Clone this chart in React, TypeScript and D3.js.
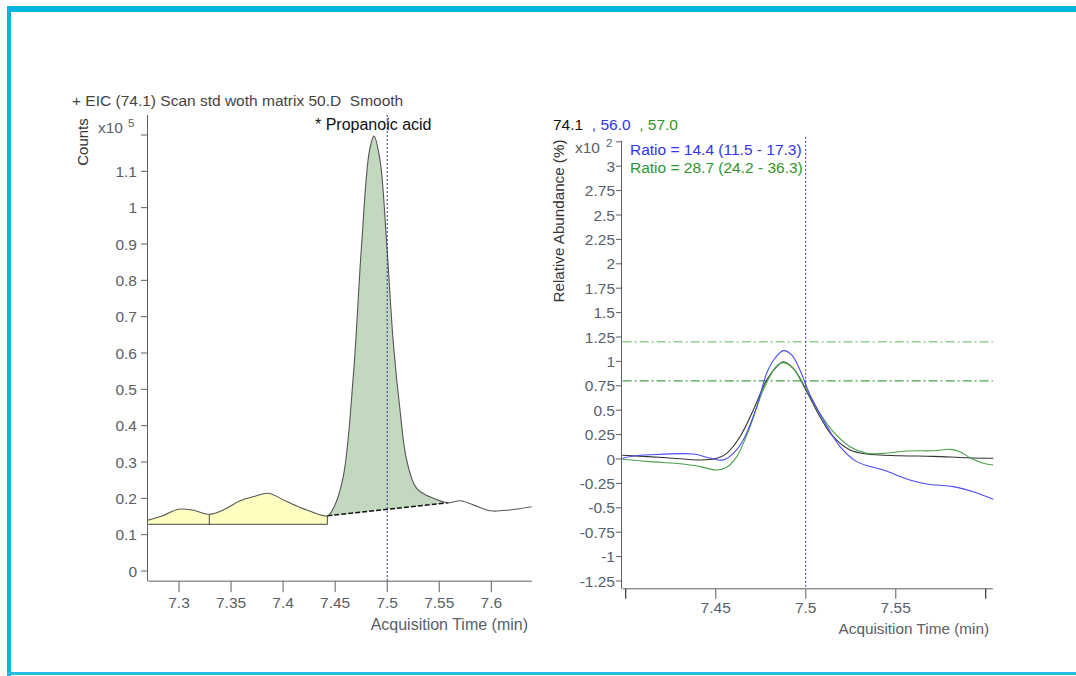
import * as d3 from "d3";
import React from "react";

// Left panel: EIC 74.1, time (min) vs counts (x10^5)
const eicPoints: [number, number][] = [
  [7.2705, 0.14], [7.285, 0.153], [7.2993, 0.17], [7.314, 0.167], [7.3291, 0.156],
  [7.344, 0.17], [7.3586, 0.1935], [7.372, 0.205], [7.3858, 0.214], [7.4035, 0.191],
  [7.4227, 0.168], [7.4425, 0.152], [7.4482, 0.172], [7.4578, 0.26], [7.4674, 0.535],
  [7.4755, 0.902], [7.4828, 1.154], [7.4873, 1.197], [7.4931, 1.131], [7.4995, 0.902],
  [7.5059, 0.627], [7.5123, 0.443], [7.5187, 0.3055], [7.5283, 0.2276], [7.5443, 0.2],
  [7.5587, 0.188], [7.5699, 0.1935], [7.5827, 0.182], [7.5956, 0.168], [7.6019, 0.165],
  [7.6148, 0.167], [7.6388, 0.177],
];
const noiseSplit = 7.3291;
const peakStart = 7.4425;
const peakEnd = 7.5587;
const noiseBaseline = 0.1285;
const leftYTicks = [0, 0.1, 0.2, 0.3, 0.4, 0.5, 0.6, 0.7, 0.8, 0.9, 1, 1.1, 1.2];
const leftXTicks = [7.3, 7.35, 7.4, 7.45, 7.5, 7.55, 7.6];

// Right panel: qualifier overlay, relative abundance (x10^2 %)
const ion741: [number, number][] = [
  [7.3981, 0.038], [7.4228, 0.013], [7.4413, -0.01], [7.4506, 0.007], [7.4561, 0.058],
  [7.4635, 0.228], [7.4709, 0.502], [7.4783, 0.809], [7.4839, 0.946], [7.4876, 0.997],
  [7.4931, 0.929], [7.5006, 0.69], [7.5079, 0.433], [7.5153, 0.228], [7.5246, 0.092],
  [7.5339, 0.051], [7.5524, 0.034], [7.5709, 0.027], [7.5894, 0.013], [7.6042, 0.007],
];
const ion560: [number, number][] = [
  [7.3981, 0.007], [7.4042, 0.031], [7.4135, 0.044], [7.4376, 0.051], [7.4468, 0.01],
  [7.4542, -0.01], [7.4598, 0.058], [7.4653, 0.195], [7.4728, 0.536], [7.4783, 0.878],
  [7.4829, 1.032], [7.4876, 1.11], [7.4922, 1.066], [7.4968, 0.912], [7.5024, 0.656],
  [7.5098, 0.4], [7.5191, 0.126], [7.5283, -0.027], [7.5431, -0.113], [7.5579, -0.215],
  [7.5672, -0.256], [7.582, -0.283], [7.5931, -0.335], [7.6042, -0.413],
];
const ion570: [number, number][] = [
  [7.3981, -0.003], [7.4135, -0.027], [7.432, -0.051], [7.4413, -0.078], [7.4506, -0.113],
  [7.4561, -0.085], [7.4617, 0.024], [7.4691, 0.331], [7.4764, 0.707], [7.4839, 0.953],
  [7.4876, 0.987], [7.4931, 0.929], [7.5006, 0.707], [7.5079, 0.468], [7.5153, 0.28],
  [7.5246, 0.126], [7.5339, 0.058], [7.5431, 0.058], [7.5561, 0.082], [7.5709, 0.085],
  [7.5802, 0.099], [7.5857, 0.075], [7.5913, 0.013], [7.5987, -0.044], [7.6042, -0.061],
];
const rangeLimits = [1.2, 0.8];
const rightYTicks = d3.range(-5, 14).map((i) => i * 0.25);
const rightXTicks = [7.4, 7.45, 7.5, 7.55, 7.6];
const rightXLabeled = [7.45, 7.5, 7.55];

const FONT = "'Liberation Sans', Arial, sans-serif";
const TICK_COLOR = "#596068";
const AXIS_COLOR = "#5a5f66";
const FS = 15.5;

const fmt = (v: number) => String(+v.toFixed(2));

function LeftPanel() {
  const x = d3.scaleLinear().domain([7.3, 7.6]).range([179, 491.3]);
  const y = d3.scaleLinear().domain([0, 1.2]).range([571, 135]);
  const xMin = 7.2705;
  const xMax = 7.639;
  const yMin = -0.028;
  const yMax = 1.255;

  const line = d3
    .line<[number, number]>()
    .x((d) => x(d[0]))
    .y((d) => y(d[1]))
    .curve(d3.curveCatmullRom);

  const noisePts = eicPoints.filter((d) => d[0] <= peakStart);
  const peakPts = eicPoints.filter((d) => d[0] >= peakStart && d[0] <= peakEnd);
  const bStart = peakPts[0];
  const bEnd = peakPts[peakPts.length - 1];
  const baseAt = (t: number) =>
    bStart[1] + ((t - bStart[0]) / (bEnd[0] - bStart[0])) * (bEnd[1] - bStart[1]);

  const noiseArea = d3
    .area<[number, number]>()
    .x((d) => x(d[0]))
    .y0(y(noiseBaseline))
    .y1((d) => y(d[1]))
    .curve(d3.curveCatmullRom);
  const peakArea = d3
    .area<[number, number]>()
    .x((d) => x(d[0]))
    .y0((d) => y(baseAt(d[0])))
    .y1((d) => y(d[1]))
    .curve(d3.curveCatmullRom);

  const splitVal = eicPoints.find((d) => d[0] === noiseSplit)![1];

  return (
    <g fontFamily={FONT}>
      <text x={72} y={106} fontSize={15.5} fill="#444" style={{ whiteSpace: "pre" }}>
        {"+ EIC (74.1) Scan std woth matrix 50.D  Smooth"}
      </text>
      <text transform={`translate(88,142) rotate(-90)`} fontSize={15} fill="#333" textAnchor="middle">
        Counts
      </text>
      <text x={98} y={133} fontSize={FS} fill={TICK_COLOR}>
        x10
        <tspan dx={5} dy={-6} fontSize={11.5}>5</tspan>
      </text>

      <path d={noiseArea(noisePts)!} fill="#ffffc2" />
      <path d={peakArea(peakPts)!} fill="#c2d9bf" />
      <line x1={x(xMin)} x2={x(peakStart)} y1={y(noiseBaseline)} y2={y(noiseBaseline)} stroke="#444" strokeWidth={1} />
      <line x1={x(noiseSplit)} x2={x(noiseSplit)} y1={y(noiseBaseline)} y2={y(splitVal)} stroke="#444" strokeWidth={1} />
      <line x1={x(peakStart)} x2={x(peakStart)} y1={y(noiseBaseline)} y2={y(bStart[1])} stroke="#444" strokeWidth={1} />
      <line
        x1={x(bStart[0])}
        y1={y(bStart[1])}
        x2={x(bEnd[0])}
        y2={y(bEnd[1])}
        stroke="#111"
        strokeWidth={1.6}
        strokeDasharray="5,2"
      />
      <path d={line(eicPoints)!} fill="none" stroke="#555" strokeWidth={1.1} />

      <line x1={x(7.5)} x2={x(7.5)} y1={y(yMax)} y2={y(yMin)} stroke="#2f2fa8" strokeDasharray="2,2" />
      <text x={315} y={130} fontSize={16} fill="#111">* Propanoic acid</text>

      {/* y axis */}
      <line x1={147.5} x2={147.5} y1={y(yMax)} y2={y(yMin)} stroke={AXIS_COLOR} />
      {leftYTicks.map((v) => (
        <g key={v}>
          <line x1={141} x2={147.5} y1={y(v)} y2={y(v)} stroke={AXIS_COLOR} />
          {v < 1.2 && (
            <text x={137} y={y(v) + 5.5} fontSize={FS} fill={TICK_COLOR} textAnchor="end">
              {fmt(v)}
            </text>
          )}
        </g>
      ))}
      {/* x axis */}
      <line x1={x(xMin)} x2={x(xMax)} y1={y(yMin)} y2={y(yMin)} stroke={AXIS_COLOR} />
      {leftXTicks.map((t) => (
        <g key={t}>
          <line x1={x(t)} x2={x(t)} y1={y(yMin)} y2={y(yMin) + 11} stroke={AXIS_COLOR} />
          <text x={x(t)} y={607.5} fontSize={FS} fill={TICK_COLOR} textAnchor="middle">
            {fmt(t)}
          </text>
        </g>
      ))}
      <text x={528} y={629.5} fontSize={16} fill={TICK_COLOR} textAnchor="end">
        Acquisition Time (min)
      </text>
    </g>
  );
}

function RightPanel() {
  const x = d3.scaleLinear().domain([7.45, 7.5]).range([715.7, 805.7]);
  const y = d3.scaleLinear().domain([0, 3]).range([459, 166.2]);
  const xMin = 7.3983;
  const xMax = 7.604;
  const yTop = 3.26;
  const yBottom = -1.33;

  const line = d3
    .line<[number, number]>()
    .x((d) => x(d[0]))
    .y((d) => y(d[1]))
    .curve(d3.curveCatmullRom);

  return (
    <g fontFamily={FONT}>
      <text x={553} y={130} fontSize={FS}>
        <tspan fill="#111">74.1</tspan>
        <tspan fill="#3333ee" style={{ whiteSpace: "pre" }}>{"  , 56.0"}</tspan>
        <tspan fill="#2e962e" style={{ whiteSpace: "pre" }}>{"  , 57.0"}</tspan>
      </text>
      <text transform={`translate(564,221) rotate(-90)`} fontSize={15.2} fill="#333" textAnchor="middle">
        Relative Abundance (%)
      </text>
      <text x={575} y={153} fontSize={FS} fill={TICK_COLOR}>
        x10
        <tspan dx={6} dy={-6} fontSize={11.5}>2</tspan>
      </text>
      <text x={630} y={155} fontSize={FS} fill="#3333ee">Ratio = 14.4 (11.5 - 17.3)</text>
      <text x={630} y={173} fontSize={FS} fill="#2e962e">Ratio = 28.7 (24.2 - 36.3)</text>

      {rangeLimits.map((v, i) => (
        <line
          key={v}
          x1={x(xMin)}
          x2={x(xMax)}
          y1={y(v)}
          y2={y(v)}
          stroke={i === 0 ? "#5cb85c" : "#1a8a1a"}
          strokeDasharray="9,3,2,3"
        />
      ))}

      <path d={line(ion741)!} fill="none" stroke="#333" strokeWidth={1.1} />
      <path d={line(ion570)!} fill="none" stroke="#4aa04a" strokeWidth={1.1} />
      <path d={line(ion560)!} fill="none" stroke="#4a4aff" strokeWidth={1.1} />

      <line x1={x(7.5)} x2={x(7.5)} y1={y(yTop) - 4} y2={y(yBottom)} stroke="#2f2fa8" strokeDasharray="2,2" />

      {/* y axis */}
      <line x1={621.5} x2={621.5} y1={y(yTop)} y2={y(yBottom)} stroke={AXIS_COLOR} />
      {rightYTicks.map((v) => (
        <g key={v}>
          <line x1={616} x2={621.5} y1={y(v)} y2={y(v)} stroke={AXIS_COLOR} />
          {v < 3.25 && (
            <text x={615} y={y(v) + 5.5} fontSize={FS} fill={TICK_COLOR} textAnchor="end">
              {fmt(v)}
            </text>
          )}
        </g>
      ))}
      {/* x axis */}
      <line x1={x(xMin)} x2={x(xMax)} y1={y(yBottom)} y2={y(yBottom)} stroke={AXIS_COLOR} />
      {rightXTicks.map((t) => {
        const labeled = rightXLabeled.includes(t);
        return (
          <g key={t}>
            <line
              x1={x(t)}
              x2={x(t)}
              y1={y(yBottom)}
              y2={y(yBottom) + 10}
              stroke={labeled ? "#888" : "#333"}
              strokeWidth={labeled ? 1.4 : 1.2}
            />
            {labeled && (
              <text x={x(t)} y={612.5} fontSize={FS} fill={TICK_COLOR} textAnchor="middle">
                {fmt(t)}
              </text>
            )}
          </g>
        );
      })}
      <text x={989} y={633.5} fontSize={15.3} fill={TICK_COLOR} textAnchor="end">
        Acquisition Time (min)
      </text>
    </g>
  );
}

export default function App() {
  return (
    <svg
      width={1076}
      height={676}
      style={{ position: "absolute", left: 0, top: 0, background: "#fff" }}
    >
      <rect x={0} y={0} width={1076} height={676} fill="#fff" />
      {/* frame */}
      <rect x={7} y={6} width={1069} height={6} fill="#00b4e0" />
      <rect x={7} y={6} width={4} height={670} fill="#00b4e0" />
      <rect x={7} y={672} width={1069} height={3} fill="#22bce3" />
      <LeftPanel />
      <RightPanel />
    </svg>
  );
}
